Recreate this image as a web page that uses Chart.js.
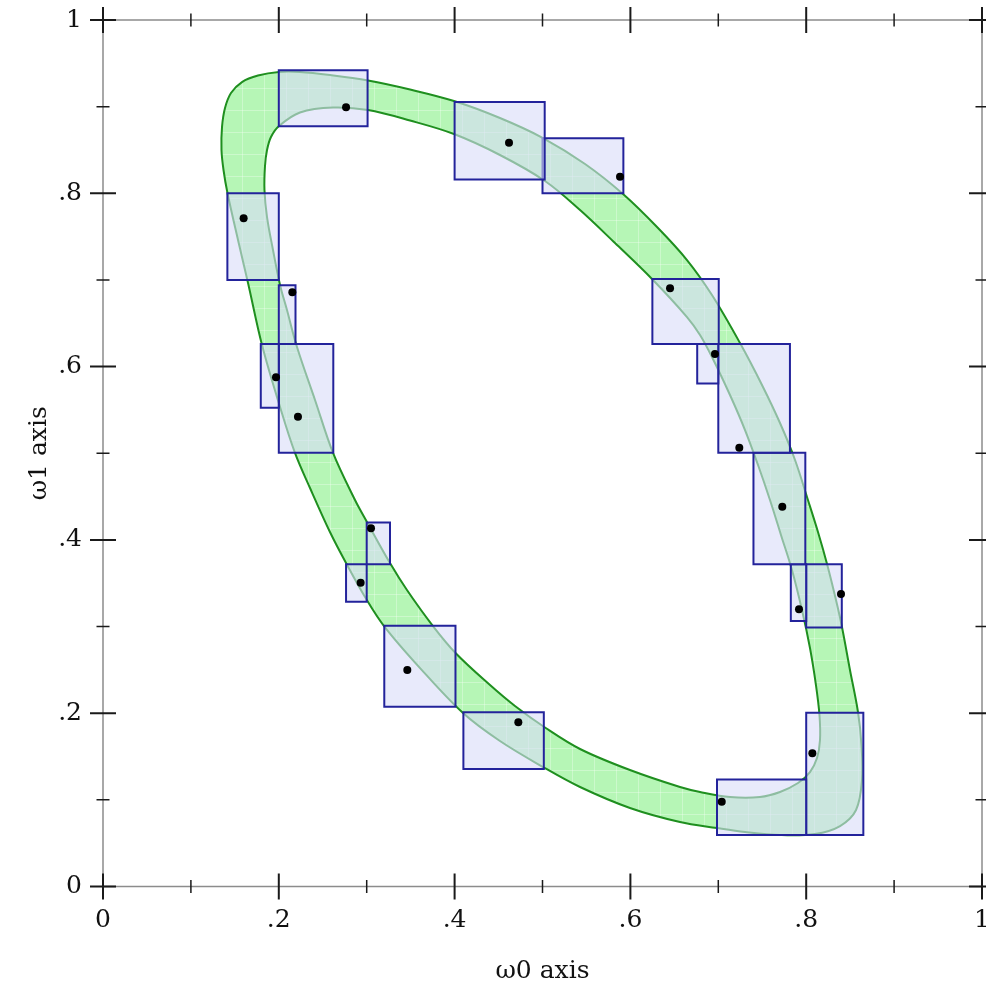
<!DOCTYPE html>
<html>
<head>
<meta charset="utf-8">
<script src="https://cdn.jsdelivr.net/npm/chart.js@4.4.1/dist/chart.umd.min.js"></script>
<style>
  html, body { margin: 0; padding: 0; background: #fff; }
  #wrap { width: 986px; height: 988px; position: relative; }
</style>
</head>
<body>
<div id="wrap"><canvas id="plot"></canvas></div>
<script>
// band edges as (ω0, ω1) pairs, going round clockwise
const outerEdge = [
  [0.1809, 0.6249], [0.1650, 0.6965], [0.1536, 0.7461], [0.1416, 0.8003], [0.1371, 0.8269],
  [0.1348, 0.8499], [0.1354, 0.8766], [0.1388, 0.8984], [0.1456, 0.9157], [0.1581, 0.9284],
  [0.1763, 0.9359], [0.2002, 0.9400], [0.2241, 0.9400], [0.2582, 0.9365], [0.3015, 0.9302],
  [0.3493, 0.9198], [0.3993, 0.9065], [0.4516, 0.8869], [0.5006, 0.8638], [0.5484, 0.8338],
  [0.5916, 0.7992], [0.6303, 0.7611], [0.6644, 0.7230], [0.6928, 0.6826], [0.7247, 0.6272],
  [0.7497, 0.5788], [0.7702, 0.5349], [0.7873, 0.4922], [0.8020, 0.4460], [0.8134, 0.4091],
  [0.8237, 0.3722], [0.8339, 0.3306], [0.8407, 0.2995], [0.8498, 0.2499], [0.8589, 0.2014],
  [0.8629, 0.1633], [0.8635, 0.1229], [0.8567, 0.0883], [0.8385, 0.0698], [0.8100, 0.0606],
  [0.7702, 0.0594], [0.7304, 0.0629], [0.6985, 0.0675], [0.6564, 0.0744], [0.5995, 0.0906],
  [0.5427, 0.1148], [0.5006, 0.1379], [0.4516, 0.1679], [0.4096, 0.2002], [0.3607, 0.2521],
  [0.3197, 0.3006], [0.2981, 0.3341], [0.2765, 0.3733], [0.2582, 0.4091], [0.2355, 0.4599],
  [0.2184, 0.5004], [0.2014, 0.5534]
];
const innerEdge = [
  [0.1866, 0.7726], [0.1837, 0.8038], [0.1843, 0.8315], [0.1866, 0.8499], [0.1911, 0.8650],
  [0.2002, 0.8777], [0.2241, 0.8933], [0.2617, 0.8990], [0.3015, 0.8961], [0.3493, 0.8840],
  [0.3993, 0.8684], [0.4516, 0.8442], [0.5028, 0.8142], [0.5427, 0.7807], [0.5825, 0.7426],
  [0.6246, 0.7011], [0.6644, 0.6572], [0.6792, 0.6365], [0.6928, 0.6111], [0.7133, 0.5672],
  [0.7304, 0.5268], [0.7452, 0.4864], [0.7588, 0.4460], [0.7713, 0.4057], [0.7838, 0.3653],
  [0.7952, 0.3191], [0.8043, 0.2752], [0.8111, 0.2325], [0.8151, 0.1979], [0.8157, 0.1691],
  [0.8123, 0.1483], [0.8043, 0.1321], [0.7907, 0.1194], [0.7702, 0.1091], [0.7474, 0.1033],
  [0.7133, 0.1033], [0.6792, 0.1091], [0.6564, 0.1148], [0.5995, 0.1344], [0.5427, 0.1587],
  [0.5028, 0.1835], [0.4687, 0.2083], [0.4403, 0.2325], [0.4016, 0.2689], [0.3754, 0.3006],
  [0.3458, 0.3422], [0.3265, 0.3733], [0.3003, 0.4207], [0.2867, 0.4460], [0.2617, 0.5004],
  [0.2412, 0.5615], [0.2207, 0.6226], [0.2093, 0.6653], [0.2014, 0.6942], [0.1934, 0.7346]
];

// rectangles: [ω0 from, ω0 to, ω1 from, ω1 to]
const boxes = [
  [0.2000, 0.3010, 0.8775, 0.9420],
  [0.4000, 0.5025, 0.8160, 0.9055],
  [0.5000, 0.5920, 0.8000, 0.8635],
  [0.1415, 0.2000, 0.7000, 0.8000],
  [0.2000, 0.2190, 0.6260, 0.6940],
  [0.1795, 0.2000, 0.5525, 0.6260],
  [0.2000, 0.2620, 0.5005, 0.6260],
  [0.6250, 0.7005, 0.6260, 0.7010],
  [0.6760, 0.7000, 0.5805, 0.6260],
  [0.7000, 0.7815, 0.5005, 0.6260],
  [0.7400, 0.7990, 0.3720, 0.5005],
  [0.7825, 0.8000, 0.3065, 0.3720],
  [0.8000, 0.8405, 0.2990, 0.3720],
  [0.3000, 0.3265, 0.3720, 0.4200],
  [0.2765, 0.3000, 0.3285, 0.3720],
  [0.3200, 0.4010, 0.2075, 0.3010],
  [0.4100, 0.5015, 0.1355, 0.2010],
  [0.6985, 0.8000, 0.0595, 0.1235],
  [0.8000, 0.8650, 0.0595, 0.2005]
];

// sample points
const sampleX = [0.2765, 0.4619, 0.5882, 0.1600, 0.2154, 0.1968, 0.2218, 0.6451, 0.6962, 0.7239,
                 0.7728, 0.7918, 0.8396, 0.3049, 0.2931, 0.3462, 0.4725, 0.7039, 0.8070];
const sampleY = [0.8992, 0.8584, 0.8192, 0.7711, 0.6857, 0.5876, 0.5422, 0.6904, 0.6145, 0.5064,
                 0.4383, 0.3199, 0.3376, 0.4134, 0.3506, 0.2499, 0.1895, 0.0979, 0.1537];

const majorTicks = [0, 0.2, 0.4, 0.6, 0.8, 1];
const minorTicks = [0.1, 0.3, 0.5, 0.7, 0.9];
const tickLabels = ['0', '.2', '.4', '.6', '.8', '1'];

const labelFont = { family: 'DejaVu Serif', size: 25 };

// light green with faint seams
function bandPattern() {
  const c = document.createElement('canvas');
  c.width = 22; c.height = 22;
  const g = c.getContext('2d');
  g.fillStyle = '#b6f6b6';
  g.fillRect(0, 0, 22, 22);
  g.fillStyle = 'rgba(255,255,255,0.3)';
  g.fillRect(0, 0, 22, 1);
  g.fillRect(0, 0, 1, 22);
  return g.createPattern(c, 'repeat');
}

const toXY = pts => pts.map(([x, y]) => ({ x, y }));

const datasets = [];
datasets.push({
  data: sampleX.map((x, i) => ({ x, y: sampleY[i] })),
  pointRadius: 4,
  pointBackgroundColor: '#000',
  pointBorderWidth: 0,
  order: 0
});
boxes.forEach(([x0, x1, y0, y1]) => {
  datasets.push({
    data: [{ x: x0, y: y0 }, { x: x1, y: y0 }, { x: x1, y: y1 }, { x: x0, y: y1 }],
    closed: true,
    showLine: true,
    fill: 'shape',
    backgroundColor: 'rgba(217,220,248,0.6)',
    borderColor: '#23239b',
    borderWidth: 2,
    pointRadius: 0,
    tension: 0,
    order: 1
  });
});
datasets.push({
  data: toXY(innerEdge),
  closed: true,
  showLine: true,
  fill: 'shape',
  backgroundColor: '#ffffff',
  borderColor: '#1f8f1f',
  borderWidth: 2,
  pointRadius: 0,
  tension: 0.35,
  order: 2
});
datasets.push({
  data: toXY(outerEdge),
  closed: true,
  showLine: true,
  fill: 'shape',
  backgroundColor: bandPattern(),
  borderColor: '#1f8f1f',
  borderWidth: 2,
  pointRadius: 0,
  tension: 0.35,
  order: 3
});

// turn the 'closed' datasets into loops so the spline wraps round smoothly
const loopPlugin = {
  id: 'closedPaths',
  afterDatasetsUpdate(chart) {
    chart.data.datasets.forEach((ds, i) => {
      if (!ds.closed) return;
      const line = chart.getDatasetMeta(i).dataset;
      if (!line) return;
      line._loop = true;
      line._fullLoop = true;
      line.points = line.points;
    });
  }
};

// axis frame with crossing ticks on all four sides
const framePlugin = {
  id: 'frame',
  afterDatasetsDraw(chart) {
    const { ctx, chartArea: a, scales: { x, y } } = chart;
    ctx.save();
    ctx.strokeStyle = '#8c8c8c';
    ctx.lineWidth = 1.5;
    ctx.strokeRect(a.left, a.top, a.right - a.left, a.bottom - a.top);
    ctx.strokeStyle = '#1a1a1a';
    const marks = (vals, half, w) => {
      ctx.lineWidth = w;
      ctx.beginPath();
      vals.forEach(v => {
        const px = x.getPixelForValue(v);
        ctx.moveTo(px, a.bottom - half); ctx.lineTo(px, a.bottom + half);
        ctx.moveTo(px, a.top - half); ctx.lineTo(px, a.top + half);
        const py = y.getPixelForValue(v);
        ctx.moveTo(a.left - half, py); ctx.lineTo(a.left + half, py);
        ctx.moveTo(a.right - half, py); ctx.lineTo(a.right + half, py);
      });
      ctx.stroke();
    };
    marks(majorTicks, 13, 2);
    marks(minorTicks, 6.5, 1.5);
    ctx.restore();
  }
};

new Chart(document.getElementById('plot'), {
  type: 'scatter',
  data: { datasets },
  options: {
    responsive: true,
    maintainAspectRatio: false,
    animation: false,
    events: [],
    layout: { padding: { top: 20, right: 4, left: 0, bottom: 0 } },
    plugins: { legend: { display: false }, tooltip: { enabled: false } },
    scales: {
      x: {
        type: 'linear', min: 0, max: 1,
        afterBuildTicks: s => { s.ticks = majorTicks.map(v => ({ value: v })); },
        afterFit: s => { s.height = 101.5; s.paddingLeft = 0; s.paddingRight = 0; },
        grid: { display: false, drawTicks: false },
        border: { display: false },
        ticks: {
          padding: 19, maxRotation: 0, autoSkip: false, color: '#111', font: labelFont,
          callback: (v, i) => tickLabels[i]
        },
        title: { display: true, text: 'ω0 axis', color: '#111', font: labelFont, padding: { top: 0, bottom: 2 } }
      },
      y: {
        type: 'linear', min: 0, max: 1,
        afterBuildTicks: s => { s.ticks = majorTicks.map(v => ({ value: v })); },
        afterFit: s => { s.width = 103; s.paddingTop = 0; s.paddingBottom = 0; },
        grid: { display: false, drawTicks: false },
        border: { display: false },
        ticks: {
          padding: 21, autoSkip: false, color: '#111', font: labelFont,
          callback: (v, i) => tickLabels[i]
        },
        title: { display: true, text: 'ω1 axis', color: '#111', font: labelFont, padding: { top: 24, bottom: 0 } }
      }
    }
  },
  plugins: [loopPlugin, framePlugin]
});
</script>
</body>
</html>
